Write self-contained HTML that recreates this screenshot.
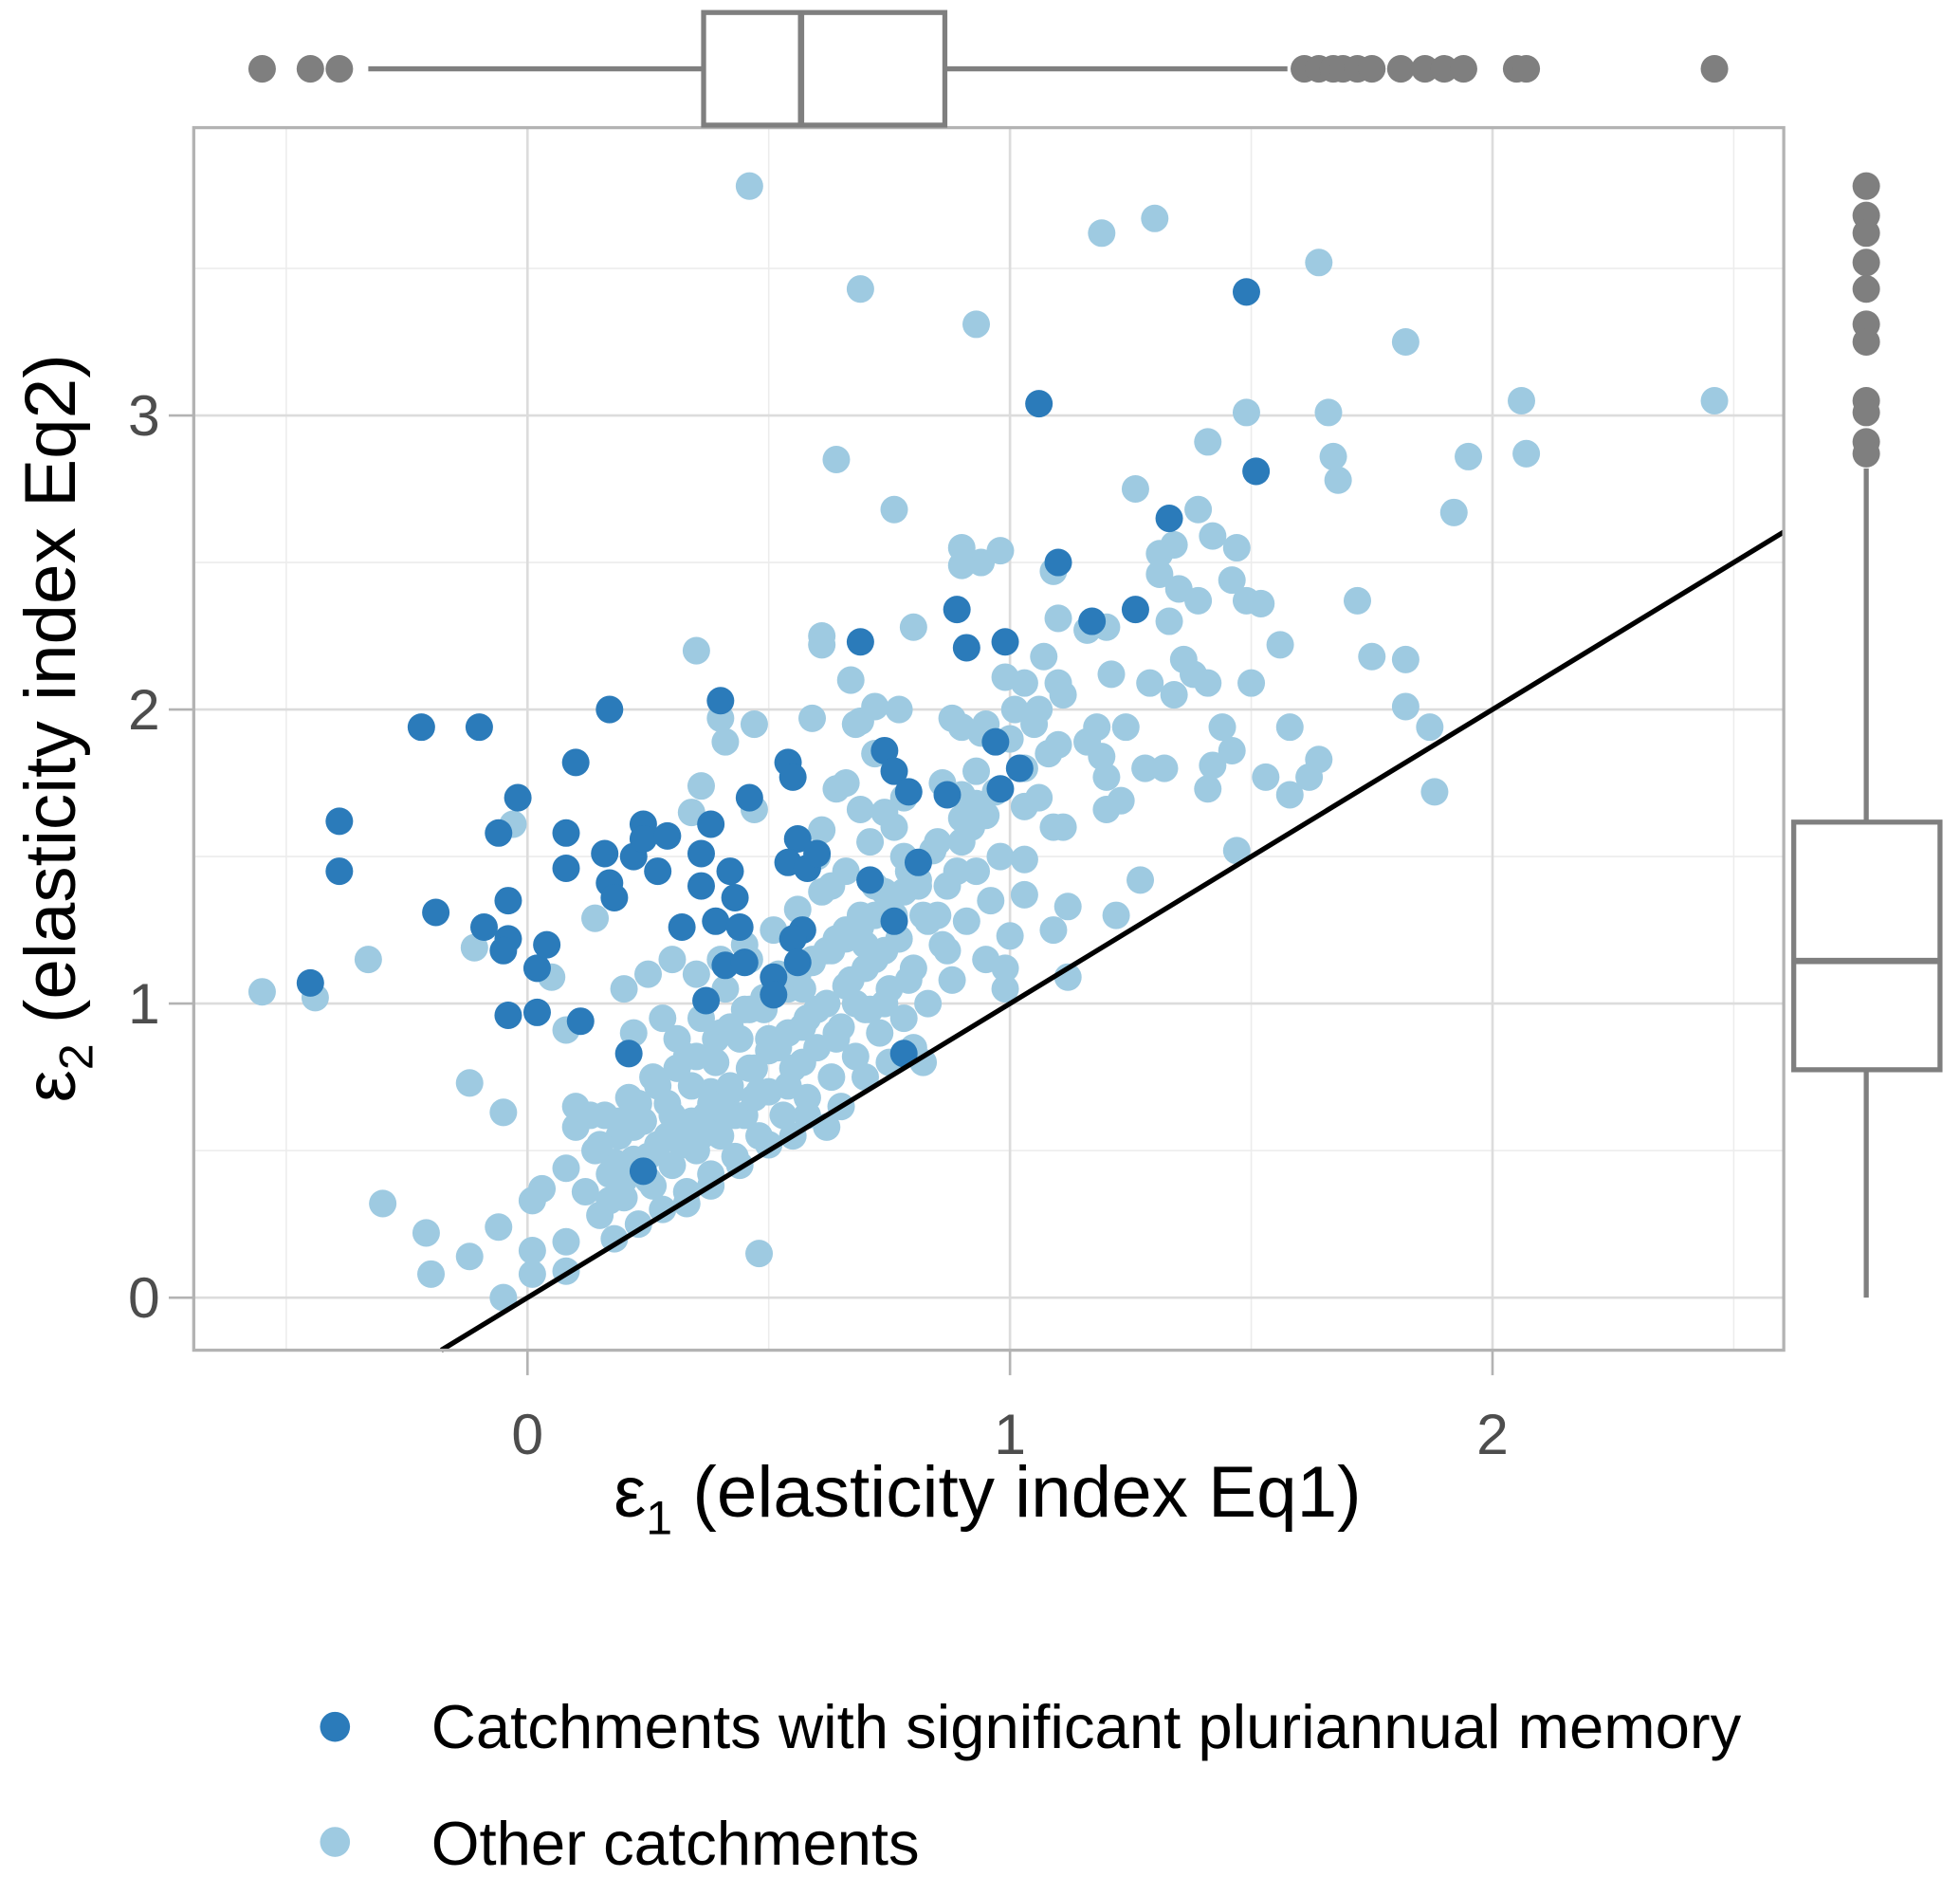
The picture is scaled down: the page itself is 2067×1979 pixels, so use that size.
<!DOCTYPE html>
<html><head><meta charset="utf-8"><style>
html,body{margin:0;padding:0;background:#fff;}
svg{display:block;}
text{font-family:"Liberation Sans",Arial,sans-serif;}
</style></head><body>
<svg id="chart" width="2067" height="1979" viewBox="0 0 1568 1500" preserveAspectRatio="none" xmlns="http://www.w3.org/2000/svg">
<g id="grid"></g>
<g id="pts"></g>
<g id="axes"></g>
<g id="box"></g>
<text x="790" y="1212" text-anchor="middle" font-size="58" fill="#000">ε<tspan font-size="38" dy="14">1</tspan><tspan dy="-14"> (elasticity index Eq1)</tspan></text>
<text transform="translate(60,582) rotate(-90)" text-anchor="middle" font-size="58" fill="#000">ε<tspan font-size="38" dy="14">2</tspan><tspan dy="-14"> (elasticity index Eq2)</tspan></text>
<g>
<circle cx="268" cy="1380" r="12" fill="#2b7bba"/>
<text x="345" y="1397" font-size="49.5" fill="#000">Catchments with significant pluriannual memory</text>
<circle cx="268" cy="1472" r="12" fill="#9ecae1"/>
<text x="345" y="1490" font-size="49.5" fill="#000">Other catchments</text>
</g>
</svg>
<script>
const xTicks=[0,1,2];
const yTicks=[0,1,2,3];
const xMinor=[-0.5,0.5,1.5,2.5];
const yMinor=[0.5,1.5,2.5,3.5];
const darkX=[-0.22,-0.10,-0.39,-0.39,-0.45,-0.19,-0.02,-0.06,-0.04,-0.09,-0.04,-0.05,0.02,0.04,-0.04,0.02,0.08,0.08,0.10,0.11,0.17,0.16,0.17,0.18,0.22,0.24,0.24,0.27,0.29,0.21,0.24,0.32,0.40,0.38,0.36,0.36,0.39,0.37,0.42,0.43,0.44,0.41,0.45,0.46,0.51,0.51,0.54,0.55,0.56,0.54,0.57,0.55,0.56,0.58,0.60,0.69,0.71,0.74,0.76,0.79,0.76,0.78,0.81,0.87,0.89,0.91,0.97,0.99,0.98,1.02,1.06,1.10,1.17,1.26,1.33,1.49,1.51];
const darkY=[1.94,1.94,1.62,1.45,1.07,1.31,1.70,1.58,1.35,1.26,1.22,1.18,1.12,1.20,0.96,0.97,1.58,1.46,1.82,0.94,2.00,1.51,1.41,1.36,1.50,1.61,1.56,1.45,1.57,0.83,0.43,1.26,2.03,1.61,1.51,1.40,1.28,1.01,1.45,1.36,1.26,1.13,1.14,1.70,1.09,1.03,1.82,1.77,1.56,1.48,1.25,1.22,1.14,1.46,1.51,2.23,1.42,1.86,1.79,1.72,1.28,0.83,1.48,1.71,2.34,2.21,1.89,2.23,1.73,1.80,3.04,2.50,2.30,2.34,2.65,3.42,2.81];
const otherX=[0.46,0.69,0.93,1.19,1.30,1.64,1.82,2.46,2.06,2.07,1.95,1.49,1.66,1.67,1.68,1.41,0.64,0.76,1.26,1.92,1.39,1.42,1.47,1.31,1.34,0.90,0.98,0.94,0.90,1.09,1.31,1.46,1.35,1.39,1.49,1.52,1.72,1.33,1.20,1.16,1.10,0.80,0.61,0.61,0.35,1.56,1.75,1.82,1.21,1.36,1.38,1.41,1.29,1.34,1.50,0.99,1.03,1.07,1.10,1.11,1.06,1.01,0.67,0.72,0.77,0.69,0.59,0.40,0.47,0.41,0.88,0.90,0.94,1.44,1.58,1.87,1.82,1.18,1.24,1.16,1.10,1.46,1.42,1.64,1.62,1.53,1.58,1.88,1.41,1.32,1.28,1.19,1.20,1.23,1.20,1.11,1.09,1.06,1.03,0.93,0.90,0.95,0.90,1.47,1.27,1.22,1.12,1.12,1.09,1.03,1.03,1.00,0.99,0.36,0.34,0.47,0.64,0.69,0.61,-0.03,-0.11,-0.33,-0.55,-0.44,0.02,0.05,-0.12,-0.05,0.14,0.08,-0.30,-0.21,-0.20,-0.12,-0.06,-0.05,0.01,0.01,0.03,0.01,0.08,0.08,0.48,0.10,
0.08,0.10,0.12,0.14,0.15,0.16,0.17,0.18,0.19,0.20,0.21,0.22,0.23,0.24,0.25,0.26,0.27,0.28,0.29,0.30,0.31,0.32,0.33,0.34,0.35,0.36,0.37,0.38,0.39,0.40,0.41,0.42,0.43,0.44,0.45,0.46,0.47,0.48,0.49,0.50,0.51,0.52,0.53,0.54,0.55,0.56,0.57,0.58,0.59,0.60,0.61,0.62,0.63,0.64,0.65,0.66,0.67,0.68,0.69,0.70,0.71,0.72,0.73,0.74,0.75,0.76,0.77,0.78,0.79,0.80,0.82,0.83,0.84,0.86,0.87,0.88,0.90,0.91,0.93,0.95,0.96,0.98,0.99,
0.13,0.18,0.22,0.26,0.30,0.33,0.36,0.38,0.40,0.43,0.45,0.47,0.50,0.52,0.54,0.57,0.60,0.62,0.64,0.66,0.68,0.70,0.72,0.74,0.76,0.78,0.81,0.85,0.89,0.92,0.60,0.63,0.45,0.40,0.35,0.30,0.25,0.28,0.22,0.20,0.55,0.50,0.44,0.38,0.33,0.65,0.70,0.75,0.80,0.82,0.62,0.58,0.68,0.72,0.66,0.74,0.78,0.85,0.86,0.93,0.97,1.03,1.05,1.08,1.00,0.95,
0.15,0.19,0.23,0.27,0.31,0.35,0.39,0.42,0.46,0.49,0.53,0.56,0.59,0.63,0.66,0.69,0.72,0.75,0.78,0.81,0.20,0.25,0.29,0.34,0.38,0.42,0.46,0.50,0.54,0.58,0.62,0.66,0.70,0.74,0.77,0.83,0.17,0.24,0.32,0.41,0.48,0.57,0.64,0.71,0.79,0.87];
const otherY=[3.78,3.43,3.31,3.62,3.67,3.52,3.25,3.05,3.05,2.87,2.86,3.01,3.01,2.86,2.78,2.91,2.85,2.68,2.75,2.67,2.68,2.59,2.55,2.53,2.56,2.55,2.54,2.50,2.49,2.47,2.46,2.44,2.41,2.37,2.37,2.36,2.37,2.30,2.28,2.27,2.31,2.28,2.25,2.22,2.20,2.22,2.18,2.17,2.12,2.17,2.12,2.09,2.09,2.05,2.09,2.11,2.09,2.18,2.09,2.05,2.00,2.00,2.10,2.01,2.00,1.96,1.97,1.97,1.95,1.89,1.97,1.94,1.92,1.94,1.94,1.94,2.01,1.94,1.94,1.89,1.88,1.86,1.81,1.83,1.77,1.77,1.71,1.72,1.73,1.80,1.80,1.84,1.77,1.69,1.66,1.60,1.60,1.70,1.67,1.79,1.71,1.64,1.63,1.52,1.42,1.30,1.33,1.09,1.25,1.49,1.37,1.23,1.12,1.74,1.65,1.66,1.73,1.66,1.59,1.61,1.19,1.15,1.04,1.02,1.12,1.09,0.73,0.63,1.29,0.91,0.32,0.22,0.08,0.14,0.24,0.00,0.16,0.08,0.37,0.33,0.19,0.09,0.15,0.65,
0.44,0.58,0.36,0.50,0.28,0.62,0.42,0.20,0.55,0.34,0.68,0.47,0.25,0.60,0.40,0.75,0.52,0.30,0.66,0.45,0.88,0.58,0.36,0.72,0.50,0.95,0.62,0.42,0.80,0.55,1.05,0.70,0.48,0.88,0.62,1.15,0.78,0.55,0.98,0.70,1.25,0.85,0.62,1.05,0.78,1.32,0.92,0.68,1.15,0.85,1.38,1.00,0.75,1.22,0.92,1.45,1.08,0.82,1.30,0.98,1.55,1.15,0.90,1.38,1.05,1.60,1.22,0.95,1.45,1.12,1.30,1.00,1.52,1.20,1.40,1.08,1.55,1.28,1.45,1.15,1.35,1.50,1.05,
0.62,0.46,0.58,0.38,0.62,0.82,0.55,0.70,0.90,0.62,0.98,0.68,0.88,1.10,0.72,1.05,0.98,1.18,0.88,1.25,1.00,1.20,1.40,1.00,1.30,1.50,1.40,1.30,1.45,1.60,1.50,1.40,1.20,1.15,1.10,1.15,1.10,0.95,0.90,1.05,0.55,0.52,0.45,0.38,0.32,0.65,0.75,0.80,0.85,0.80,0.58,0.62,1.95,1.85,1.75,1.65,1.70,1.55,1.75,1.68,1.72,1.80,1.95,1.85,1.90,1.95,
0.52,0.60,0.66,0.72,0.78,0.82,0.88,0.92,0.98,1.02,1.06,1.10,1.14,1.18,1.22,1.26,1.30,1.34,1.38,1.42,0.40,0.48,0.55,0.60,0.66,0.72,0.78,0.84,0.90,0.95,1.00,1.06,1.12,1.18,1.22,1.28,0.33,0.42,0.52,0.63,0.70,0.80,0.90,0.98,1.08,1.18];
const topBoxStats=[-0.33,0.365,0.567,0.865,1.575];
const topOutliers=[-0.55,-0.45,-0.39,1.61,1.64,1.67,1.69,1.72,1.75,1.81,1.86,1.90,1.94,2.05,2.07,2.46];
const rightBoxStats=[0,0.775,1.145,1.617,2.82];
const rightOutliers=[3.78,3.68,3.62,3.52,3.43,3.31,3.25,3.05,3.01,2.91,2.87];

const NS='http://www.w3.org/2000/svg';
const L=155,R=1427,T=102,B=1079;
const sx=v=>422+v*386, sy=v=>1037-v*235;
function mk(tag,attrs,parent){const e=document.createElementNS(NS,tag);for(const k in attrs)e.setAttribute(k,attrs[k]);parent.appendChild(e);return e;}
const grid=document.getElementById('grid'),pts=document.getElementById('pts'),axes=document.getElementById('axes'),box=document.getElementById('box');
const bg=mk('rect',{x:L,y:T,width:R-L,height:B-T,fill:'#fff'},grid);


xMinor.forEach(v=>{const l=mk('line',{x1:sx(v),x2:sx(v),y1:T,y2:B,stroke:'#ececec','stroke-width':1.2},grid);

});
yMinor.forEach(v=>{const l=mk('line',{x1:L,x2:R,y1:sy(v),y2:sy(v),stroke:'#ececec','stroke-width':1.2},grid);

});
xTicks.forEach(v=>{const l=mk('line',{x1:sx(v),x2:sx(v),y1:T,y2:B,stroke:'#dcdcdc','stroke-width':2},grid);


const t=mk('line',{x1:sx(v),x2:sx(v),y1:B,y2:B+20,stroke:'#b3b3b3','stroke-width':2},axes);


const tx=mk('text',{x:sx(v),y:1162,'text-anchor':'middle','font-size':46,fill:'#4d4d4d'},axes);tx.textContent=v;

});
yTicks.forEach(v=>{const l=mk('line',{x1:L,x2:R,y1:sy(v),y2:sy(v),stroke:'#dcdcdc','stroke-width':2},grid);


const t=mk('line',{x1:L-20,x2:L,y1:sy(v),y2:sy(v),stroke:'#b3b3b3','stroke-width':2},axes);


const tx=mk('text',{x:128,y:sy(v)+16,'text-anchor':'end','font-size':46,fill:'#4d4d4d'},axes);tx.textContent=v;

});
otherX.forEach((x,i)=>{const c=mk('circle',{cx:sx(x),cy:sy(otherY[i]),r:11,fill:'#9ecae1'},pts);

});
darkX.forEach((x,i)=>{const c=mk('circle',{cx:sx(x),cy:sy(darkY[i]),r:11,fill:'#2b7bba'},pts);

});
const x0=(1037-B)/235, x1=(R-422)/386;
const ln=mk('line',{x1:sx(x0),y1:sy(x0),x2:R,y2:sy(x1),stroke:'#000','stroke-width':4},axes);


const fr=mk('rect',{x:L,y:T,width:R-L,height:B-T,fill:'none',stroke:'#b3b3b3','stroke-width':2.5},axes);


const G='#7f7f7f';
const tw1=mk('line',{x1:sx(topBoxStats[0]),x2:sx(topBoxStats[1]),y1:55,y2:55,stroke:G,'stroke-width':4},box);


const tw2=mk('line',{x1:sx(topBoxStats[3]),x2:sx(topBoxStats[4]),y1:55,y2:55,stroke:G,'stroke-width':4},box);


const tb=mk('rect',{x:sx(topBoxStats[1]),y:10,width:sx(topBoxStats[3])-sx(topBoxStats[1]),height:90,fill:'#fff',stroke:G,'stroke-width':4},box);


const tm=mk('line',{x1:sx(topBoxStats[2]),x2:sx(topBoxStats[2]),y1:10,y2:100,stroke:G,'stroke-width':5},box);


topOutliers.forEach(v=>{const c=mk('circle',{cx:sx(v),cy:55,r:11,fill:G},box);

});
const rw1=mk('line',{x1:1493,x2:1493,y1:sy(rightBoxStats[0]),y2:sy(rightBoxStats[1]),stroke:G,'stroke-width':4},box);


const rw2=mk('line',{x1:1493,x2:1493,y1:sy(rightBoxStats[3]),y2:sy(rightBoxStats[4]),stroke:G,'stroke-width':4},box);


const rb=mk('rect',{x:1435,y:sy(rightBoxStats[3]),width:117,height:sy(rightBoxStats[1])-sy(rightBoxStats[3]),fill:'#fff',stroke:G,'stroke-width':4},box);


const rm=mk('line',{x1:1435,x2:1552,y1:sy(rightBoxStats[2]),y2:sy(rightBoxStats[2]),stroke:G,'stroke-width':5},box);


rightOutliers.forEach(v=>{const c=mk('circle',{cx:1493,cy:sy(v),r:11,fill:G},box);

});
</script>
</body></html>
